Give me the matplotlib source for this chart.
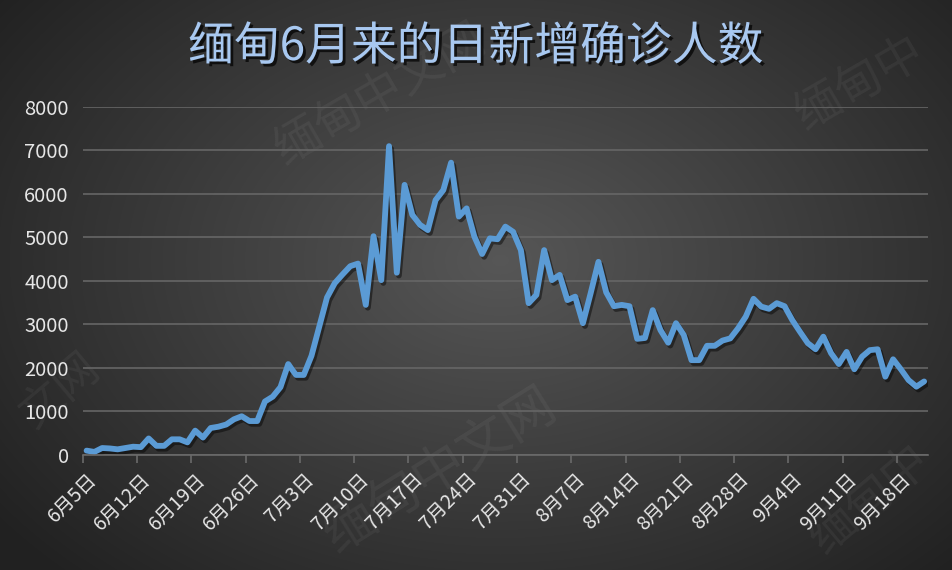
import numpy as np
import pandas as pd
import matplotlib
matplotlib.use('Agg')
import matplotlib.pyplot as plt
import matplotlib.patheffects as pe

plt.rcParams['font.family'] = ['Noto Sans CJK SC', 'DejaVu Sans']

# ===== Data =====
start_date = '2021-06-05'
daily_cases = [
    100, 70, 160, 150, 130, 160, 190, 180, 380, 210,
    210, 360, 360, 290, 560, 400, 620, 650, 700, 820,
    890, 780, 780, 1230, 1340, 1560, 2090, 1840, 1840, 2280,
    2950, 3620, 3950, 4150, 4340, 4400, 3450, 5030, 4020, 7100,
    4190, 6210, 5520, 5290, 5170, 5860, 6090, 6720, 5480, 5670,
    5020, 4620, 4980, 4960, 5250, 5130, 4710, 3490, 3680, 4710,
    4020, 4140, 3560, 3640, 3030, 3720, 4440, 3740, 3420, 3450,
    3420, 2670, 2690, 3330, 2870, 2580, 3030, 2760, 2180, 2180,
    2510, 2510, 2630, 2680, 2910, 3180, 3590, 3410, 3360, 3490,
    3420, 3100, 2830, 2570, 2430, 2720, 2340, 2090, 2370, 1970,
    2260, 2410, 2430, 1800, 2200, 1970, 1720, 1570, 1690,
]
dates = pd.date_range(start_date, periods=len(daily_cases))
date_labels = [f"{d.month}月{d.day}日" for d in dates]
title = '缅甸6月来的日新增确诊人数'

# ===== Figure =====
fig = plt.figure(figsize=(9.52, 5.7), dpi=100)

# dark radial background
bg = fig.add_axes([0, 0, 1, 1], zorder=0)
gy, gx = np.mgrid[0:570, 0:952]
r = np.sqrt(((gx - 500) / 600.0) ** 2 + ((gy - 260) / 420.0) ** 2)
shade = np.clip(0.34 - 0.20 * r, 0.13, 0.34)
bg.imshow(np.dstack([shade, shade, shade]), aspect='auto', extent=[0, 952, 570, 0])
bg.set_xlim(0, 952)
bg.set_ylim(570, 0)
bg.axis('off')

# faint watermarks
for (wtxt, wx, wy, rot, fs) in [('缅甸中文网', 380, 95, 30, 34),
                                ('缅甸中文网', 440, 470, 32, 38),
                                ('缅甸中', 860, 85, 30, 34),
                                ('缅甸中', 870, 500, 40, 34),
                                ('文网', 60, 390, 40, 32)]:
    bg.text(wx, wy, wtxt, fontsize=fs, color='white', alpha=0.05,
            rotation=rot, ha='center', va='center')

ax0 = fig.add_axes([0.0869, 0.2018, 0.8879, 0.6105], zorder=1)
ax0.patch.set_alpha(0)

x = np.arange(len(daily_cases))
ax0.plot(x, daily_cases, color='#5b9bd5', lw=4.2,
         solid_joinstyle='round', solid_capstyle='round',
         path_effects=[pe.SimpleLineShadow(offset=(1.5, -2), shadow_color='black', alpha=0.45),
                       pe.Normal()])

ax0.set_xlim(-0.5, len(daily_cases) - 0.5)
ax0.set_ylim(0, 8000)
ax0.set_yticks(np.arange(0, 8001, 1000))
ax0.grid(True, axis='y', color='#666666', lw=1.2)
ax0.set_axisbelow(True)

# category boundaries carry the tick marks, labels sit on the category
ax0.set_xticks(np.arange(-0.5, len(daily_cases), 7))
ax0.set_xticklabels([])
lab_pos = np.arange(0, len(daily_cases), 7)
ax0.set_xticks(lab_pos, minor=True)
ax0.set_xticklabels([date_labels[i] for i in lab_pos], minor=True,
                    rotation=45, ha='right', va='top', rotation_mode='anchor')
ax0.tick_params(axis='x', which='major', length=6, width=1.2, color='#6a6a6a')
ax0.tick_params(axis='x', which='minor', length=0, pad=10, labelsize=14, labelcolor='#e6e6e6')
ax0.tick_params(axis='y', length=0, pad=10, labelsize=14.5, labelcolor='#e6e6e6')

for s in ['top', 'right', 'left']:
    ax0.spines[s].set_visible(False)
ax0.spines['bottom'].set_color('#6a6a6a')
ax0.spines['bottom'].set_linewidth(1.2)

fig.text(0.5, 0.918, title, fontsize=33, color='#a8c8f0', ha='center', va='center',
         path_effects=[pe.withSimplePatchShadow(offset=(2, -2), shadow_rgbFace='black', alpha=0.7)])

plt.savefig('out.png', dpi=100)
plt.close()
